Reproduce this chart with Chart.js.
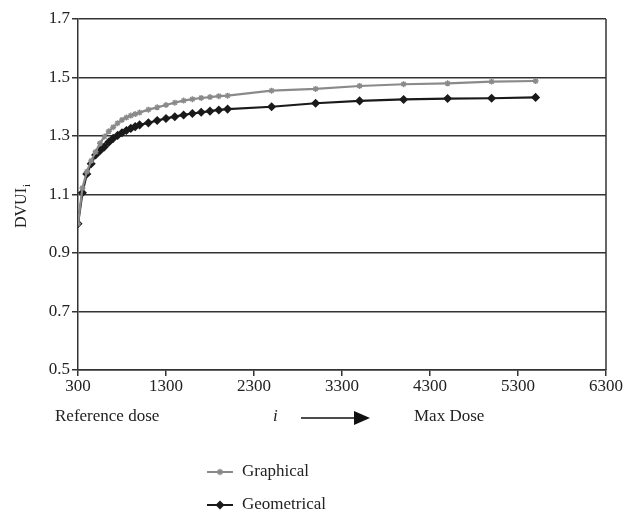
<!DOCTYPE html>
<html>
<head>
<meta charset="utf-8">
<script src="https://cdn.jsdelivr.net/npm/chart.js@4"></script>
<style>
  html, body { margin: 0; padding: 0; background: #fff; }
  #wrap { width: 625px; height: 513px; }
</style>
</head>
<body>
<div id="wrap"><canvas id="myChart" width="625" height="513"></canvas></div>
<script>
// dose steps (i) and DVUI values
const doses = [300, 350, 400, 450, 500, 550, 600, 650, 700, 750, 800, 850, 900, 950, 1000,
  1100, 1200, 1300, 1400, 1500, 1600, 1700, 1800, 1900, 2000,
  2500, 3000, 3500, 4000, 4500, 5000, 5500];
const graphical = [1.0, 1.122, 1.178, 1.215, 1.246, 1.275, 1.298, 1.316, 1.33, 1.344, 1.355, 1.363, 1.37, 1.375, 1.38,
  1.39, 1.398, 1.406, 1.414, 1.421, 1.426, 1.430, 1.433, 1.436, 1.438,
  1.455, 1.461, 1.471, 1.477, 1.480, 1.486, 1.488];
const geometrical = [1.0, 1.106, 1.170, 1.205, 1.235, 1.25, 1.263, 1.279, 1.292, 1.302, 1.311, 1.319, 1.326, 1.332, 1.338,
  1.345, 1.353, 1.360, 1.366, 1.372, 1.377, 1.381, 1.385, 1.389, 1.392,
  1.400, 1.412, 1.420, 1.425, 1.428, 1.429, 1.432];
const xTicks = [300, 1300, 2300, 3300, 4300, 5300, 6300];
const yTicks = [0.5, 0.7, 0.9, 1.1, 1.3, 1.5, 1.7];
const seriesNames = ['Graphical', 'Geometrical'];

const FONT = '"Liberation Serif", "DejaVu Serif", serif';
const grey = '#8a8a8a';
const dark = '#1a1a1a';

function pts(vals) {
  return doses.map((d, k) => ({ x: d, y: vals[k] }));
}

// extra text: axis notes, y title with subscript, stacked legend, right border
const extras = {
  id: 'extras',
  afterDraw(chart) {
    const ctx = chart.ctx;
    const a = chart.chartArea;
    ctx.save();
    ctx.strokeStyle = '#333';
    ctx.lineWidth = 1.5;
    ctx.beginPath();
    ctx.moveTo(a.right, a.top);
    ctx.lineTo(a.right, a.bottom);
    ctx.stroke();

    ctx.fillStyle = '#222';
    ctx.font = '17px ' + FONT;
    ctx.textBaseline = 'middle';
    ctx.textAlign = 'left';
    ctx.fillText('Reference dose', 55, 417);
    ctx.fillText('Max Dose', 414, 417);
    ctx.font = 'italic 17px ' + FONT;
    ctx.fillText('i', 273, 417);
    // arrow
    ctx.strokeStyle = '#111';
    ctx.lineWidth = 1.5;
    ctx.beginPath();
    ctx.moveTo(301, 418);
    ctx.lineTo(355, 418);
    ctx.stroke();
    ctx.fillStyle = '#111';
    ctx.beginPath();
    ctx.moveTo(354, 411);
    ctx.lineTo(370, 418);
    ctx.lineTo(354, 425);
    ctx.closePath();
    ctx.fill();

    // y title
    ctx.save();
    ctx.translate(22, 205);
    ctx.rotate(-Math.PI / 2);
    ctx.fillStyle = '#222';
    ctx.font = '16px ' + FONT;
    ctx.textAlign = 'center';
    ctx.fillText('DVUI', -3, 0);
    const w = ctx.measureText('DVUI').width;
    ctx.font = '11px ' + FONT;
    ctx.textAlign = 'left';
    ctx.fillText('i', -3 + w / 2 + 1, 5);
    ctx.restore();

    // legend
    const items = [
      { label: seriesNames[0], color: grey, style: 'star', r: 3.2, y: 472 },
      { label: seriesNames[1], color: dark, style: 'rectRot', r: 3.5, y: 505 }
    ];
    items.forEach(it => {
      ctx.strokeStyle = it.color;
      ctx.lineWidth = 2;
      ctx.beginPath();
      ctx.moveTo(207, it.y);
      ctx.lineTo(233, it.y);
      ctx.stroke();
      ctx.fillStyle = it.color;
      ctx.lineWidth = 1.4;
      Chart.helpers.drawPoint(ctx, { pointStyle: it.style, radius: it.r, borderWidth: 1.4 }, 220, it.y);
      ctx.fillStyle = '#222';
      ctx.font = '17px ' + FONT;
      ctx.textAlign = 'left';
      ctx.fillText(it.label, 242, it.y);
    });
    ctx.restore();
  }
};

const config = {
  type: 'line',
  data: {
    datasets: [
      {
        label: seriesNames[0],
        data: pts(graphical),
        borderColor: grey,
        backgroundColor: grey,
        borderWidth: 2.2,
        pointStyle: 'star',
        pointRadius: 3,
        pointBorderWidth: 1.4,
        tension: 0
      },
      {
        label: seriesNames[1],
        data: pts(geometrical),
        borderColor: dark,
        backgroundColor: dark,
        borderWidth: 2.2,
        pointStyle: 'rectRot',
        pointRadius: 3,
        tension: 0
      }
    ]
  },
  options: {
    responsive: false,
    animation: false,
    layout: { padding: { left: 0, top: 19, right: 19, bottom: 113 } },
    plugins: { legend: { display: false }, tooltip: { enabled: false } },
    scales: {
      x: {
        type: 'linear',
        min: 300,
        max: 6300,
        afterBuildTicks: s => { s.ticks = xTicks.map(v => ({ value: v })); },
        afterFit: s => { s.height = 30; },
        grid: { display: true, drawOnChartArea: false, drawTicks: true, tickLength: 6, color: '#333', lineWidth: 1.5 },
        border: { color: '#333', width: 1.5 },
        ticks: { color: '#222', font: { family: FONT, size: 17 }, padding: 0, maxRotation: 0,
          callback: v => String(v) }
      },
      y: {
        min: 0.5,
        max: 1.7,
        afterBuildTicks: s => { s.ticks = yTicks.map(v => ({ value: v })); },
        afterFit: s => { s.width = 78; },
        grid: { color: '#333', lineWidth: 1.5, tickLength: 6 },
        border: { color: '#333', width: 1.5 },
        ticks: { color: '#222', font: { family: FONT, size: 17 }, padding: 2,
          callback: v => v.toFixed(1) }
      }
    }
  },
  plugins: [extras]
};

const myChart = new Chart(document.getElementById('myChart'), config);
</script>
</body>
</html>
